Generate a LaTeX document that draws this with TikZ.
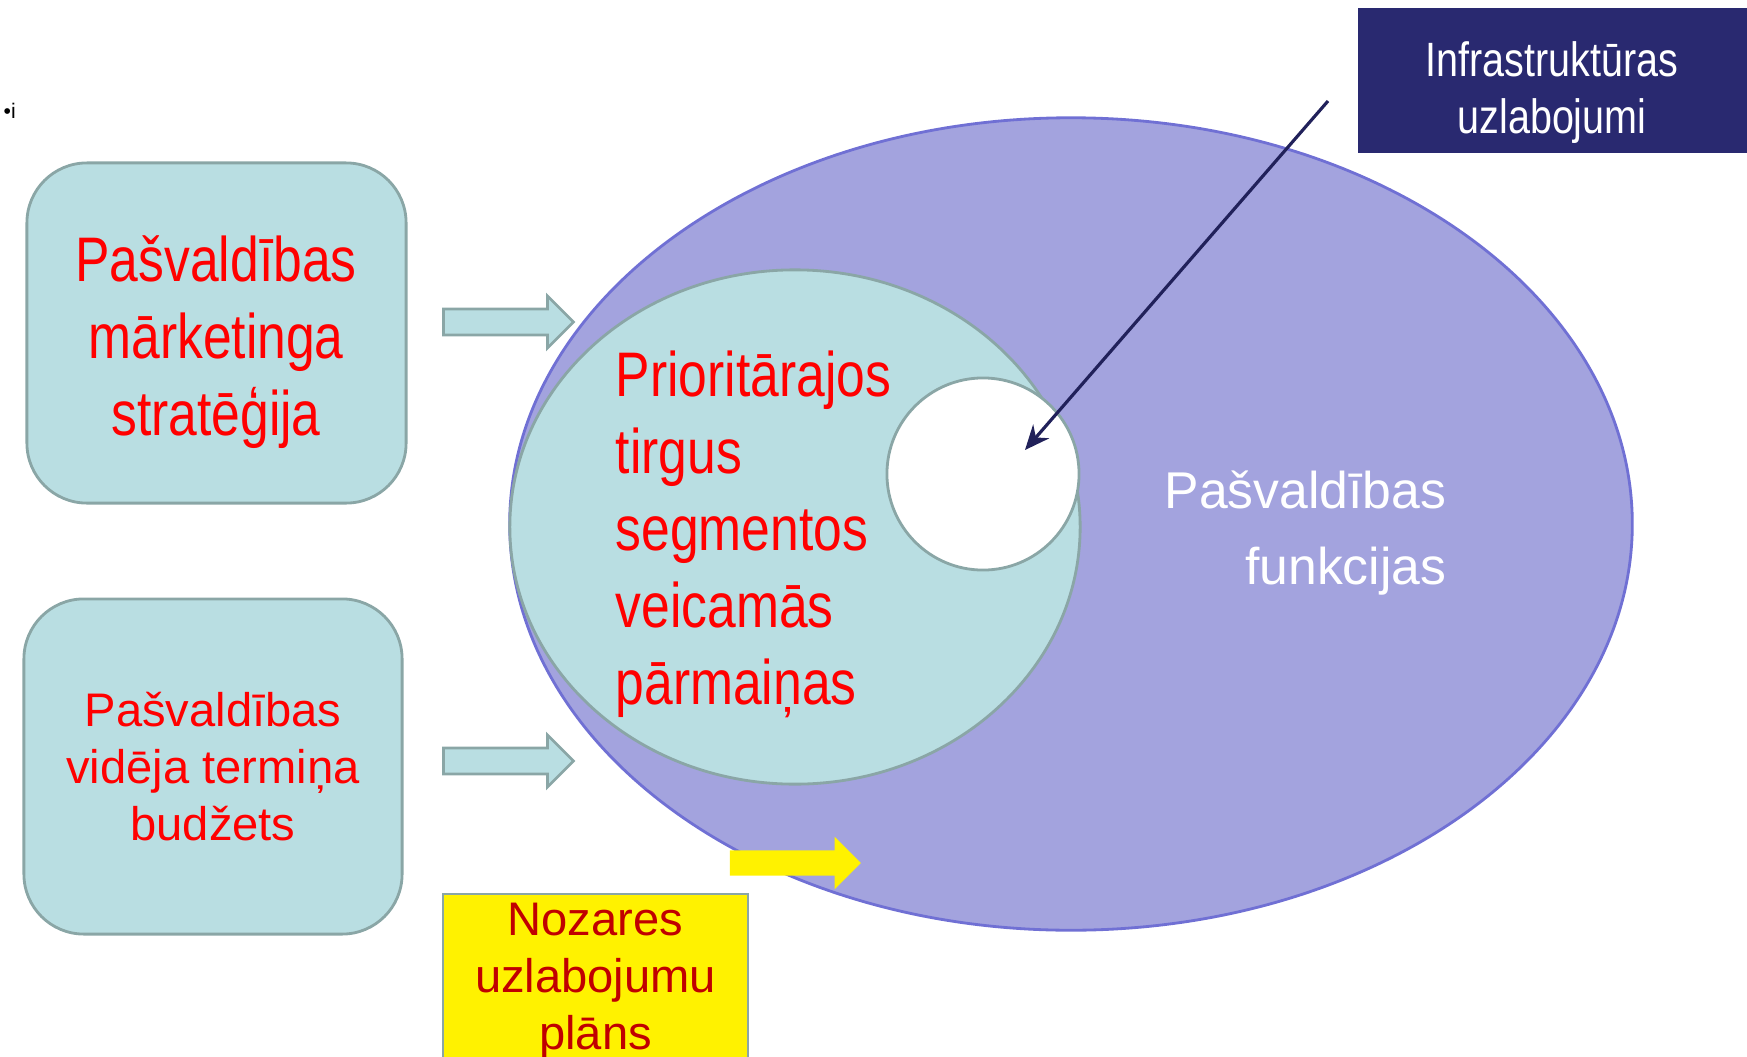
\documentclass[tikz,border=0pt]{standalone}
\usepackage{fontspec}
\setmainfont{Liberation Sans}
\newfontfamily\narrowfont[FakeStretch=0.82]{Liberation Sans}
\usetikzlibrary{arrows.meta, shapes.geometric, shapes.arrows, positioning}

\definecolor{boxteal}{RGB}{185,222,226}
\definecolor{edgeteal}{RGB}{138,166,166}
\definecolor{funcpurple}{RGB}{163,163,222}
\definecolor{edgepurple}{RGB}{112,112,212}
\definecolor{infranavy}{RGB}{41,41,112}
\definecolor{darkred}{RGB}{192,0,0}

\begin{document}
\begin{tikzpicture}[x=0.01cm, y=-0.01cm,
        tealbox/.style={rectangle, rounded corners=0.6cm, draw=edgeteal, fill=boxteal, line width=0.8pt, inner sep=0, align=center, text=red},
        blockarrow/.style={single arrow, single arrow head extend=0.13cm, minimum height=1.3cm, inner sep=0, inner ysep=0.115cm},
        bigfont/.style={font=\narrowfont\fontsize{17.9}{21.9}\selectfont},
        smallfont/.style={font=\fontsize{13.4}{16.2}\selectfont}]
    \useasboundingbox (0,0) rectangle (1747,1057);

    \node[anchor=base west, inner sep=0, font=\fontsize{6}{7}\selectfont] (bullet) at (3,118) {•i};

    % left boxes and their arrows
    \node[tealbox, minimum width=3.79cm, minimum height=3.40cm] (strategy) at (216.5,333) {};
    \node[text=red, align=center, inner sep=0, bigfont] (strategytext) at (216,342) {Pašvaldības\\mārketinga\\stratēģija};
    \node[tealbox, smallfont, minimum width=3.78cm, minimum height=3.35cm] (budget) at (213,766.5) {Pašvaldības\\vidēja termiņa\\budžets};
    \node[blockarrow, draw=edgeteal, fill=boxteal, line width=0.8pt] (strategyarrow) at (502,322) {};
    \node[blockarrow, draw=edgeteal, fill=boxteal, line width=0.8pt] (budgetarrow) at (502,761) {};

    % ellipses
    \node[ellipse, draw=edgepurple, fill=funcpurple, line width=0.8pt, minimum width=11.22cm, minimum height=8.12cm, inner sep=0] (functions) at (1071,524) {};
    \node[blockarrow, fill=yellow, minimum height=1.31cm, inner ysep=0.12cm, single arrow head extend=0.135cm] (sectorarrow) at (789,863) {};
    \node[ellipse, draw=edgeteal, fill=boxteal, line width=0.8pt, minimum width=5.70cm, minimum height=5.14cm, inner sep=0] (segments) at (795,527) {};
    \node[circle, draw=edgeteal, fill=white, line width=0.8pt, minimum size=1.92cm, inner sep=0] (infraspot) at (983,474) {};
    \node[text=red, align=left, anchor=west, inner sep=0, bigfont] (segmentstext) at (615,534) {Prioritārajos\\tirgus\\segmentos\\veicamās\\pārmaiņas};
    \node[text=white, align=right, anchor=east, inner sep=0, font=\fontsize{14.7}{21.4}\selectfont] (functionstext) at (1447,533) {Pašvaldības\\funkcijas};

    % sector plan
    \node[draw=edgeteal, fill=yellow, line width=0.8pt, minimum width=3.05cm, minimum height=1.74cm, inner sep=0, align=center, text=darkred, smallfont] (sectorplan) at (595.5,981) {Nozares\\uzlabojumu\\plāns};

    % infrastructure
    \node[fill=infranavy, minimum width=3.92cm, minimum height=1.45cm, inner sep=0] (infra) at (1554,80.5) {};
    \node[text=white, align=center, inner sep=0, font=\narrowfont\fontsize{13.7}{16.2}\selectfont] (infratext) at (1552,93) {Infrastruktūras\\uzlabojumi};
    \coordinate (infratail) at (1328,101);
    \coordinate (infratip) at (1025,450);
    \draw[-{Stealth[length=7pt,width=6pt]}, draw=infranavy!80!black, line width=0.9pt] (infratail) -- (infratip);
\end{tikzpicture}
\end{document}
